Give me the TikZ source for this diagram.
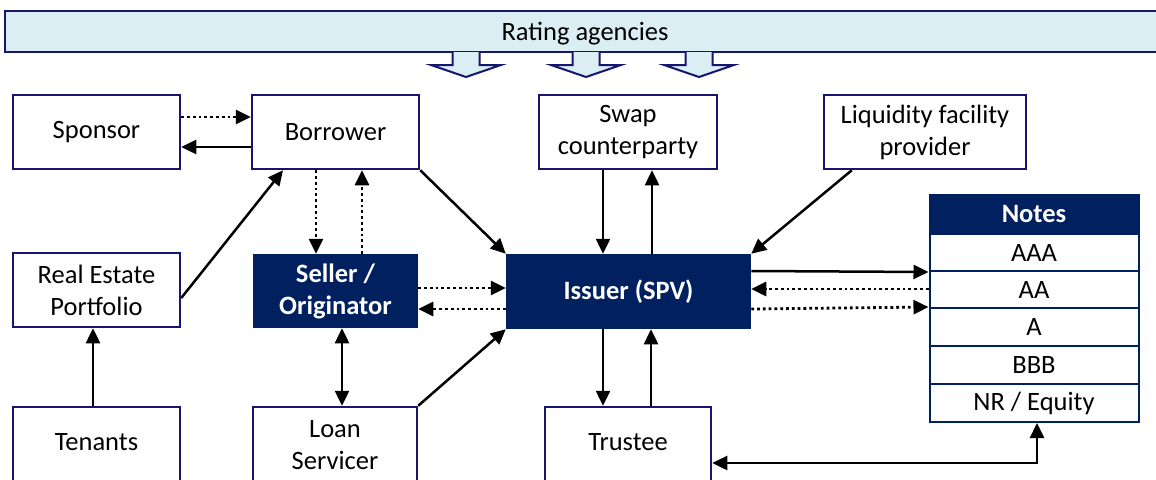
\documentclass[tikz,border=0pt]{standalone}
\usepackage{fontspec}
\setmainfont{Carlito}
\usetikzlibrary{arrows.meta,calc}
\definecolor{navy}{HTML}{002060}
\definecolor{edge}{HTML}{16166E}
\definecolor{pale}{HTML}{DAEEF3}
\tikzset{
  box/.style={draw=edge, line width=2.5pt, fill=white, inner sep=0pt, align=center,
              font=\fontsize{26.5}{32}\selectfont, text=black},
  darkbox/.style={box, draw=navy, fill=navy, text=white,
              font=\fontsize{26.5}{32}\selectfont\bfseries},
  cell/.style={draw=navy, line width=2pt, fill=white, inner sep=0pt, minimum width=209pt,
              font=\fontsize{26.5}{30}\selectfont},
  link/.style={line width=2.5pt, -{Triangle[length=15pt,width=14pt]}},
  twolink/.style={line width=2.5pt, {Triangle[length=15pt,width=14pt]}-{Triangle[length=15pt,width=14pt]}},
  dlink/.style={link, line width=2.8pt, dash pattern=on 2.8pt off 3pt},
  blockarrow/.style={draw=edge, line width=2pt, fill=pale, line join=miter}
}
\begin{document}
\begin{tikzpicture}[x=1pt,y=-1pt]
\clip (0,0) rectangle (1156,479);
\fill[white] (0,0) rectangle (1156,479);

% rating agencies bar and its three block arrows
\node[box, fill=pale, minimum width=1160pt, minimum height=41pt, text depth=0pt] (rating) at (585,31.5) {Rating agencies};
\foreach \c in {466,586,699}{
  \draw[blockarrow] (\c-13.5,52) -- (\c-13.5,65) -- (\c-35,65) -- (\c,77)
        -- (\c+35,65) -- (\c+13.5,65) -- (\c+13.5,52);
}

% top row
\node[box, minimum width=167pt, minimum height=74pt] (sponsor)  at (96.5,132) {Sponsor};
\node[box, minimum width=167pt, minimum height=74pt] (borrower) at (335.5,132) {Borrower};
\node[box, minimum width=178pt, minimum height=74pt] (swap)     at (628,132) {Swap\\counterparty};
\node[box, minimum width=202pt, minimum height=74pt] (liq)      at (925,132) {Liquidity facility\\provider};

% middle row
\node[box, minimum width=167pt, minimum height=74pt] (re)     at (96.5,290) {Real Estate\\Portfolio};
\node[darkbox, minimum width=163pt, minimum height=72pt] (seller) at (335.5,291) {Seller /\\Originator};
\node[darkbox, minimum width=243pt, minimum height=73pt] (issuer) at (628.5,291.5) {Issuer (SPV)};

% bottom row
\node[box, minimum width=167pt, minimum height=76pt, text depth=6pt] (tenants) at (96.5,445) {Tenants};
\node[box, minimum width=164pt, minimum height=76pt] (loan)    at (335,445) {Loan\\Servicer};
\node[box, minimum width=166pt, minimum height=76pt, text depth=6pt] (trustee) at (628,445) {Trustee};

% notes table
\node[cell, fill=navy, text=white, font=\fontsize{26.5}{30}\selectfont\bfseries, minimum height=39pt] (notes) at (1034,214.5) {Notes};
\node[cell, minimum height=37pt] (aaa) at (1034,252.5) {AAA};
\node[cell, minimum height=37pt] (aa)  at (1034,289.5) {AA};
\node[cell, minimum height=38pt] (a)   at (1034,327) {A};
\node[cell, minimum height=38pt] (bbb) at (1034,365) {BBB};
\node[cell, minimum height=38pt] (nr)  at (1034,403) {NR / Equity};

% sponsor / borrower
\draw[dlink] (sponsor.east |- 0,117) -- (borrower.west |- 0,117);
\draw[link]  (borrower.west |- 0,147) -- (sponsor.east |- 0,147);

% borrower / seller
\draw[dlink] (borrower.south -| 316,0) -- (seller.north -| 316,0);
\draw[dlink] (seller.north -| 362,0) -- (borrower.south -| 362,0);

% into the borrower and the issuer
\draw[link] (re.east |- 0,298) -- (borrower.south -| 283,0);
\draw[link] (borrower.south east) -- (issuer.north west);
\draw[link] (swap.south -| 603,0) -- (issuer.north -| 603,0);
\draw[link] (issuer.north -| 652,0) -- (swap.south -| 652,0);
\draw[link] ($(liq.south west)+(29,0)$) -- (issuer.north east);

% seller / issuer
\draw[dlink] (seller.east |- 0,288) -- (issuer.west |- 0,288);
\draw[dlink] (issuer.west |- 0,309) -- (seller.east |- 0,309);

% issuer / notes
\draw[link]  (issuer.east |- 0,271) -- (aaa.south west);
\draw[dlink] (aa.west |- 0,289) -- (issuer.east |- 0,289);
\draw[dlink] (issuer.east |- 0,309) -- (a.north west);

% lower links
\draw[link]    (tenants.north -| 93,0) -- (re.south -| 93,0);
\draw[twolink] (seller.south -| 342,0) -- (loan.north -| 342,0);
\draw[link]    (loan.north east) -- (issuer.south west);
\draw[link]    (issuer.south -| 603,0) -- (trustee.north -| 603,0);
\draw[link]    (trustee.north -| 651,0) -- (issuer.south -| 651,0);
\draw[twolink] (trustee.east |- 0,463) -| (nr.south -| 1037,0);
\end{tikzpicture}
\end{document}
